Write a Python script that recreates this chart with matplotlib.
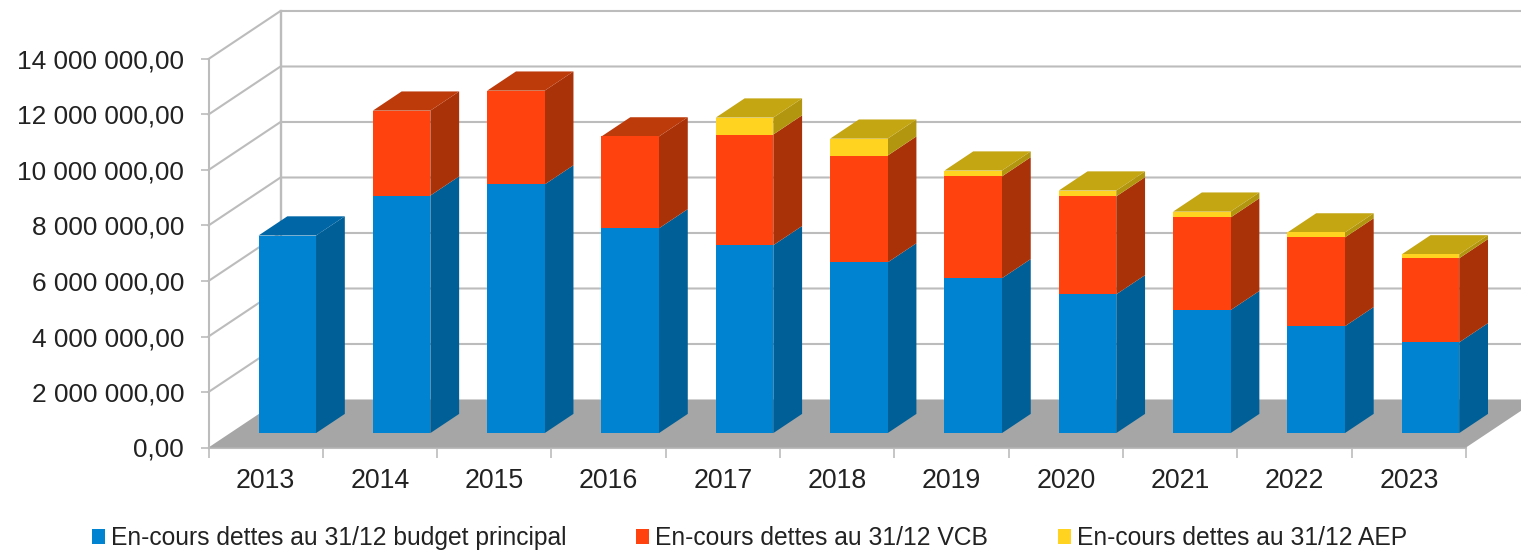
import matplotlib
matplotlib.use("Agg")
import matplotlib.pyplot as plt

plt.rcParams['font.family'] = ['Liberation Sans', 'DejaVu Sans']

years = ['2013', '2014', '2015', '2016', '2017', '2018', '2019', '2020', '2021', '2022', '2023']
budget_principal = [7120000, 8560000, 8960000, 7380000, 6770000, 6150000, 5580000, 5000000, 4430000, 3850000, 3270000]
vcb = [0, 3060000, 3380000, 3310000, 3990000, 3850000, 3670000, 3530000, 3340000, 3200000, 3030000]
aep = [0, 0, 0, 0, 610000, 610000, 210000, 210000, 210000, 180000, 140000]

series = [
    ('En-cours dettes au 31/12 budget principal', budget_principal, '#0084d1', '#005f96', '#0066a6'),
    ('En-cours dettes au 31/12 VCB', vcb, '#ff420e', '#aa3208', '#bd3a0b'),
    ('En-cours dettes au 31/12 AEP', aep, '#ffd320', '#b3960f', '#c4a512'),
]
y_ticks = [0, 2000000, 4000000, 6000000, 8000000, 10000000, 12000000, 14000000]

# oblique depth of the whole chart box, in data units
depth_x = 0.63
depth_y = 1730000
bar_width = 0.503
bar_depth = 0.40  # share of the box depth taken by the bars
gap = (1 - bar_depth) / 2

grid_color = '#bcbcbc'
text_color = '#222222'

W, H = 1521, 550
fig = plt.figure(figsize=(W / 100, H / 100), dpi=100)
ax = fig.add_axes([208.5 / W, (H - 447.5) / H, (1466 - 208.5) / W, (447.5 - 59) / H])
ax.set_xlim(0, len(years))
ax.set_ylim(0, 14000000)
ax.patch.set_visible(False)

# walls
for v in y_ticks[1:]:
    ax.plot([0, depth_x, len(years) + 1], [v, v + depth_y, v + depth_y],
            color=grid_color, lw=1.5, clip_on=False, zorder=1)
ax.plot([depth_x, depth_x], [depth_y, 14000000 + depth_y], color=grid_color, lw=1.7, clip_on=False, zorder=1)

# floor
ax.fill([0, len(years), len(years) + depth_x, depth_x], [0, 0, depth_y, depth_y],
        color='#a6a6a6', lw=0, clip_on=False, zorder=2)

# bars
x0 = [i + 0.5 - bar_width / 2 + gap * depth_x for i in range(len(years))]
dx = bar_depth * depth_x
dy = bar_depth * depth_y
base_y = gap * depth_y
bottoms = [base_y] * len(years)
top_color = [None] * len(years)
for label, values, front, side, top in series:
    ax.bar(x0, values, width=bar_width, bottom=bottoms, align='edge', color=front, lw=0,
           label=label, clip_on=False, zorder=4)
    for i, val in enumerate(values):
        if val == 0:
            continue
        b = bottoms[i]
        right = x0[i] + bar_width
        ax.fill([right, right + dx, right + dx, right], [b, b + dy, b + val + dy, b + val],
                color=side, lw=0, clip_on=False, zorder=3)
        top_color[i] = top
    bottoms = [b + v for b, v in zip(bottoms, values)]

# only the top of the stack shows its lid
for i, b in enumerate(bottoms):
    right = x0[i] + bar_width
    ax.fill([x0[i], right, right + dx, x0[i] + dx], [b, b, b + dy, b + dy],
            color=top_color[i], lw=0, clip_on=False, zorder=3)

# axes
for name in ['top', 'right']:
    ax.spines[name].set_visible(False)
for name in ['left', 'bottom']:
    ax.spines[name].set_color(grid_color)
    ax.spines[name].set_linewidth(1.5)
ax.spines['bottom'].set_zorder(1.5)
ax.set_yticks(y_ticks)
ax.set_yticklabels([f'{v:,.2f}'.replace(',', ' ').replace('.', ',') for v in y_ticks])
ax.set_xticks(range(len(years) + 1))
ax.set_xticklabels([])
ax.set_xticks([i + 0.5 for i in range(len(years))], minor=True)
ax.set_xticklabels(years, minor=True)
ax.tick_params(axis='y', length=6, width=1.2, color=grid_color, labelsize=18.9, labelcolor=text_color, pad=11.5)
ax.tick_params(axis='x', which='major', length=7, width=1.2, color=grid_color)
ax.tick_params(axis='x', which='minor', length=0, labelsize=19.3, labelcolor=text_color, pad=15)

leg = ax.legend(loc='lower left', bbox_to_anchor=(92 / W, 0.0), bbox_transform=fig.transFigure,
                ncol=3, frameon=False, fontsize=17.72, handlelength=0.53, handleheight=0.53,
                handletextpad=0.25, columnspacing=2.82, borderaxespad=0, borderpad=0)
for t in leg.get_texts():
    t.set_color(text_color)

fig.savefig('out.png', dpi=100)
